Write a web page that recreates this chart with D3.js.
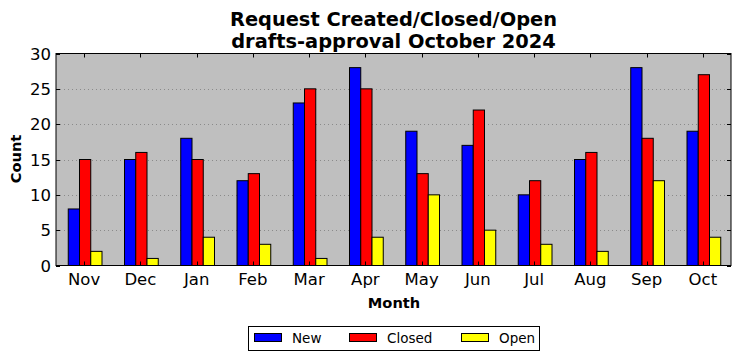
<!DOCTYPE html>
<html><head><meta charset="utf-8">
<script src="https://cdn.jsdelivr.net/npm/d3@7"></script>
<style>body{margin:0;background:#fff;} text{font-family:"DejaVu Sans",sans-serif;}</style>
</head><body>
<svg id="c" width="741" height="361"></svg>
<script>
const months = ["Nov","Dec","Jan","Feb","Mar","Apr","May","Jun","Jul","Aug","Sep","Oct"];
const seriesNames = ["New","Closed","Open"];
const seriesColors = ["#0000ff","#ff0000","#ffff00"];
const newVals = [8,15,18,12,23,28,19,17,10,15,28,19];
const closedVals = [15,16,15,13,25,25,13,22,12,16,18,27];
const openVals = [2,1,4,3,1,4,10,5,3,2,12,4];
const yTicks = [0,5,10,15,20,25,30];
const series = [newVals, closedVals, openVals];

const svg = d3.select("#c");
const L = 56, R = 731, T = 53.5, B = 265.5;
const x = d3.scaleLinear().domain([-0.5, 11.5]).range([L, R]);
const y = d3.scaleLinear().domain([0, 30]).range([B, T]);
const bw = x(0.2) - x(0);

svg.append("rect").attr("x", L).attr("y", T).attr("width", R-L).attr("height", B-T).attr("fill", "#bfbfbf");

// grid
svg.append("g").selectAll("line").data(yTicks.slice(1, -1)).join("line")
  .attr("x1", L).attr("x2", R).attr("y1", d => Math.round(y(d))+0.5).attr("y2", d => Math.round(y(d))+0.5)
  .attr("stroke", "#8a8a8a").attr("stroke-width", 1).attr("stroke-dasharray", "1,3");

// bars
series.forEach((vals, si) => {
  svg.append("g").selectAll("rect").data(vals).join("rect")
    .attr("x", (d, i) => x(i + (si - 1) * 0.2 - 0.1) + 1)
    .attr("width", bw)
    .attr("y", d => y(d))
    .attr("height", d => B - y(d))
    .attr("fill", seriesColors[si])
    .attr("stroke", "#000").attr("stroke-width", 1);
});

// frame
svg.append("rect").attr("x", L).attr("y", T).attr("width", R-L).attr("height", B-T)
  .attr("fill", "none").attr("stroke", "#000").attr("stroke-width", 1);

// inward ticks
const tk = svg.append("g").attr("stroke", "#000").attr("stroke-width", 1);
months.forEach((m, i) => {
  const xx = Math.round(x(i)) + 0.5;
  tk.append("line").attr("x1", xx).attr("x2", xx).attr("y1", T).attr("y2", T+4);
  tk.append("line").attr("x1", xx).attr("x2", xx).attr("y1", B).attr("y2", B-4);
});
yTicks.forEach(v => {
  const yy = Math.round(y(v)) + 0.5;
  tk.append("line").attr("x1", L).attr("x2", L+4).attr("y1", yy).attr("y2", yy);
  tk.append("line").attr("x1", R).attr("x2", R-4).attr("y1", yy).attr("y2", yy);
});

// tick labels
svg.append("g").selectAll("text").data(months).join("text")
  .attr("x", (d, i) => x(i)).attr("y", 284.5).attr("text-anchor", "middle")
  .attr("font-size", 16.5).text(d => d);
svg.append("g").selectAll("text").data(yTicks).join("text")
  .attr("x", L - 5).attr("y", d => y(d) + 6).attr("text-anchor", "end")
  .attr("font-size", 16.5).text(d => d);

// titles
svg.append("text").attr("x", 393.5).attr("y", 26).attr("text-anchor", "middle")
  .attr("font-size", 19.4).attr("font-weight", "bold").text("Request Created/Closed/Open");
svg.append("text").attr("x", 393.5).attr("y", 47.5).attr("text-anchor", "middle")
  .attr("font-size", 19.4).attr("font-weight", "bold").text("drafts-approval October 2024");
svg.append("text").attr("x", 394).attr("y", 308).attr("text-anchor", "middle")
  .attr("font-size", 14.6).attr("font-weight", "bold").text("Month");
svg.append("text").attr("transform", "translate(21,159) rotate(-90)").attr("text-anchor", "middle")
  .attr("font-size", 14.6).attr("font-weight", "bold").text("Count");

// legend
const lg = svg.append("g");
lg.append("rect").attr("x", 248.5).attr("y", 326.5).attr("width", 291).attr("height", 24)
  .attr("fill", "#fff").attr("stroke", "#000").attr("stroke-width", 1);
const lx = [254, 349, 461];
seriesNames.forEach((n, i) => {
  lg.append("rect").attr("x", lx[i] + 0.5).attr("y", 333.5).attr("width", 27).attr("height", 8)
    .attr("fill", seriesColors[i]).attr("stroke", "#000").attr("stroke-width", 1);
  lg.append("text").attr("x", lx[i] + 38).attr("y", 343).attr("font-size", 13.5).text(n);
});
</script>
</body></html>
